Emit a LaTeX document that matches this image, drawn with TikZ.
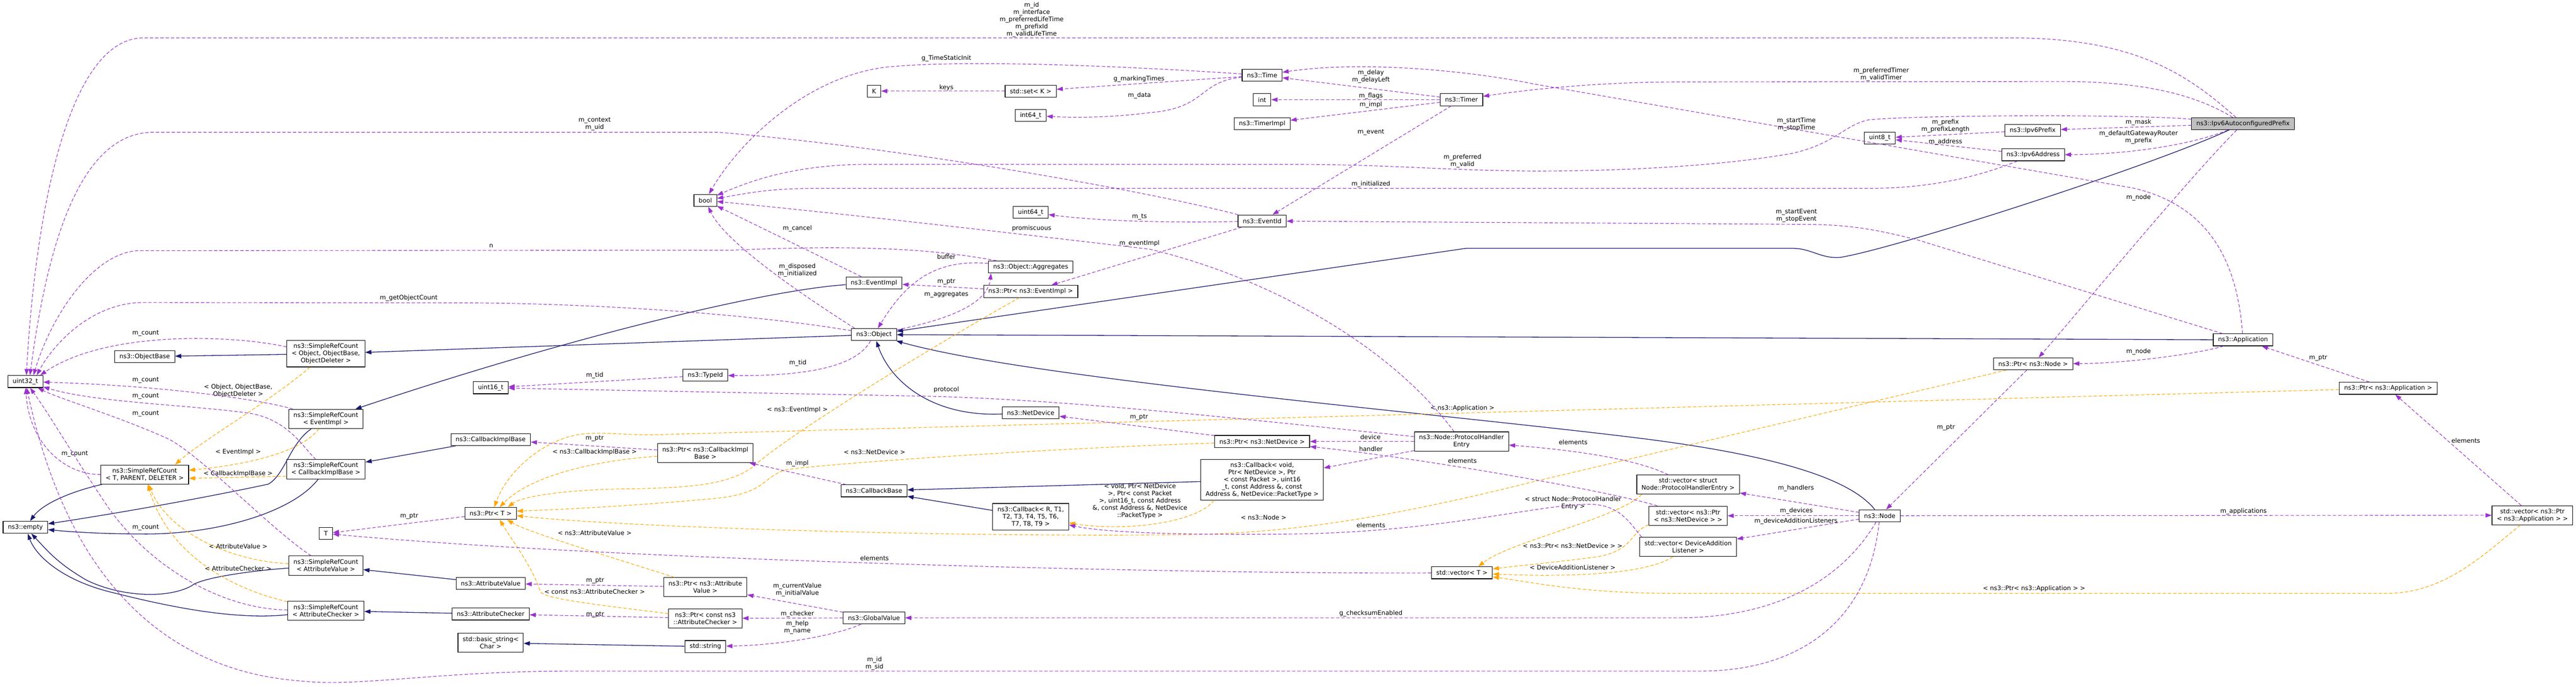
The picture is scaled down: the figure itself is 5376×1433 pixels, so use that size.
\documentclass[tikz,border=0pt]{standalone}
\usepackage{fontspec}
\setmainfont{DejaVu Sans}
\usetikzlibrary{arrows.meta}
\definecolor{inhblue}{HTML}{191970}
\definecolor{usepurple}{HTML}{9A32CD}
\definecolor{tmplorange}{HTML}{FFA500}
\definecolor{hlgray}{HTML}{BFBFBF}
\tikzset{
  cls/.style={draw=black, fill=white, line width=0.6pt, inner xsep=5pt, inner ysep=1pt, minimum height=12.5pt, align=center},
  twoline/.style={minimum height=20pt},
  threeline/.style={minimum height=27.5pt},
  fiveline/.style={minimum height=42pt},
  inh/.style={draw=inhblue, line width=0.7pt, -{Triangle[length=6.5pt,width=4.5pt]}},
  member/.style={draw=usepurple, line width=0.6pt, dash pattern=on 3.5pt off 2pt, -{Triangle[length=6.5pt,width=4.5pt]}},
  tmpl/.style={draw=tmplorange, line width=0.6pt, dash pattern=on 3.5pt off 2pt, -{Triangle[length=6.5pt,width=4.5pt]}},
  lbl/.style={align=center, inner sep=0pt, text=black}
}
\begin{document}
\begin{tikzpicture}[x=0.5pt, y=-0.5pt, font=\fontsize{6.45}{7.5}\selectfont]
    \useasboundingbox (0,0) rectangle (5376,1433);
    % Classes (pixel grid, y down)
    \node[cls, fill=hlgray] (n_prefix) at (4681,258) {ns3::Ipv6AutoconfiguredPrefix};
    \node[cls] (n_u32) at (53,796) {uint32\_t};
    \node[cls] (n_objbase) at (302,744) {ns3::ObjectBase};
    \node[cls, threeline] (n_srcobj) at (680,738) {ns3::SimpleRefCount\\< Object, ObjectBase,\\ObjectDeleter >};
    \node[cls, twoline] (n_srcev) at (680,874) {ns3::SimpleRefCount\\< EventImpl >};
    \node[cls, twoline] (n_srct) at (302,990) {ns3::SimpleRefCount\\< T, PARENT, DELETER >};
    \node[cls, twoline] (n_srccb) at (680,979) {ns3::SimpleRefCount\\< CallbackImplBase >};
    \node[cls] (n_empty) at (53,1100) {ns3::empty};
    \node[cls] (n_t) at (680,1113) {T};
    \node[cls, twoline] (n_srcav) at (680,1180) {ns3::SimpleRefCount\\< AttributeValue >};
    \node[cls, twoline] (n_srcac) at (680,1274) {ns3::SimpleRefCount\\< AttributeChecker >};
    \node[cls] (n_u16) at (1024,809) {uint16\_t};
    \node[cls] (n_cbimpl) at (1024,917) {ns3::CallbackImplBase};
    \node[cls] (n_ptrt) at (1024,1071) {ns3::Ptr< T >};
    \node[cls] (n_attval) at (1024,1217) {ns3::AttributeValue};
    \node[cls] (n_attchk) at (1024,1281) {ns3::AttributeChecker};
    \node[cls, twoline] (n_bstr) at (1024,1341) {std::basic\_string<\\Char >};
    \node[cls] (n_bool) at (1472,418) {bool};
    \node[cls] (n_typeid) at (1472,783) {ns3::TypeId};
    \node[cls, twoline] (n_ptrcb) at (1472,945) {ns3::Ptr< ns3::CallbackImpl\\Base >};
    \node[cls, twoline] (n_ptrav) at (1472,1225) {ns3::Ptr< ns3::Attribute\\Value >};
    \node[cls, twoline] (n_ptrac) at (1472,1290) {ns3::Ptr< const ns3\\::AttributeChecker >};
    \node[cls] (n_str) at (1472,1349) {std::string};
    \node[cls] (n_k) at (1824,190) {K};
    \node[cls] (n_evimpl) at (1824,590) {ns3::EventImpl};
    \node[cls] (n_object) at (1824,698) {ns3::Object};
    \node[cls] (n_cbbase) at (1824,1024) {ns3::CallbackBase};
    \node[cls] (n_gv) at (1824,1289) {ns3::GlobalValue};
    \node[cls] (n_set) at (2151,190) {std::set< K >};
    \node[cls] (n_i64) at (2151,241) {int64\_t};
    \node[cls] (n_u64) at (2151,443) {uint64\_t};
    \node[cls] (n_aggr) at (2151,557) {ns3::Object::Aggregates};
    \node[cls] (n_ptrev) at (2151,608) {ns3::Ptr< ns3::EventImpl >};
    \node[cls] (n_netdev) at (2151,861) {ns3::NetDevice};
    \node[cls, threeline] (n_cbr) at (2151,1078) {ns3::Callback< R, T1,\\T2, T3, T4, T5, T6,\\T7, T8, T9 >};
    \node[cls] (n_time) at (2634,157) {ns3::Time};
    \node[cls] (n_int) at (2634,208) {int};
    \node[cls] (n_timerimpl) at (2634,258) {ns3::TimerImpl};
    \node[cls] (n_evid) at (2634,461) {ns3::EventId};
    \node[cls] (n_ptrnd) at (2634,921) {ns3::Ptr< ns3::NetDevice >};
    \node[cls, fiveline] (n_cbvoid) at (2634,1001) {ns3::Callback< void,\\Ptr< NetDevice >, Ptr\\< const Packet >, uint16\\\_t, const Address \&, const\\Address \&, NetDevice::PacketType >};
    \node[cls] (n_timer) at (3050,208) {ns3::Timer};
    \node[cls, twoline] (n_phe) at (3050,921) {ns3::Node::ProtocolHandler\\Entry};
    \node[cls] (n_vect) at (3051,1195) {std::vector< T >};
    \node[cls, twoline] (n_vphe) at (3523,1011) {std::vector< struct\\Node::ProtocolHandlerEntry >};
    \node[cls, twoline] (n_vnd) at (3523,1076) {std::vector< ns3::Ptr\\< ns3::NetDevice > >};
    \node[cls, twoline] (n_vdal) at (3523,1141) {std::vector< DeviceAddition\\Listener >};
    \node[cls] (n_u8) at (3923,288) {uint8\_t};
    \node[cls] (n_node) at (3923,1076) {ns3::Node};
    \node[cls] (n_ipv6pfx) at (4242,272) {ns3::Ipv6Prefix};
    \node[cls] (n_ipv6addr) at (4243,323) {ns3::Ipv6Address};
    \node[cls] (n_ptrnode) at (4243,759) {ns3::Ptr< ns3::Node >};
    \node[cls] (n_app) at (4681,709) {ns3::Application};
    \node[cls] (n_ptrapp) at (4984,810) {ns3::Ptr< ns3::Application >};
    \node[cls, twoline] (n_vapp) at (5285,1075) {std::vector< ns3::Ptr\\< ns3::Application > >};

    % Inheritance
    \draw[inh] (n_prefix) .. controls (4480,350) and (3950,520) .. (3840,537) .. controls (3800,540) and (3780,518) .. (3740,518) -- (3060,518) -- (n_object);
    \draw[inh] (n_app) -- (n_object);
    \draw[inh] (n_node) .. controls (3870,1010) and (3750,955) .. (3420,914) .. controls (3000,862) and (2150,790) .. (n_object);
    \draw[inh] (n_netdev) .. controls (1950,870) and (1860,800) .. (n_object);
    \draw[inh] (n_evimpl) .. controls (1600,605) and (1200,700) .. (n_srcev);
    \draw[inh] (n_object) -- (n_srcobj);
    \draw[inh] (n_srcobj) -- (n_objbase);
    \draw[inh] (n_srcev) .. controls (605,925) and (595,990) .. (560,1010) .. controls (420,1040) and (250,1070) .. (n_empty);
    \draw[inh] (n_srct) .. controls (150,1025) and (90,1050) .. (n_empty);
    \draw[inh] (n_srccb) .. controls (610,1070) and (450,1115) .. (300,1114) .. controls (220,1114) and (150,1110) .. (n_empty);
    \draw[inh] (n_srcav) .. controls (530,1190) and (420,1205) .. (400,1222) .. controls (350,1250) and (250,1245) .. (180,1210) .. controls (120,1175) and (100,1150) .. (n_empty);
    \draw[inh] (n_srcac) .. controls (480,1295) and (330,1260) .. (230,1235) .. controls (130,1210) and (75,1160) .. (n_empty);
    \draw[inh] (n_cbimpl) -- (n_srccb);
    \draw[inh] (n_attval) -- (n_srcav);
    \draw[inh] (n_attchk) -- (n_srcac);
    \draw[inh] (n_str) -- (n_bstr);
    \draw[inh] (n_cbvoid) -- (n_cbbase);
    \draw[inh] (n_cbr) -- (n_cbbase);

    % Template instances
    \draw[tmpl] (n_srcobj) .. controls (560,840) and (420,920) .. (n_srct.18) node[lbl] at (497,815) {< Object, ObjectBase,\\ObjectDeleter >};
    \draw[tmpl] (n_srcev) .. controls (640,930) and (560,965) .. (n_srct) node[lbl] at (497,943) {< EventImpl >};
    \draw[tmpl] (n_srccb.190) -- (n_srct.-5) node[lbl] at (497,988) {< CallbackImplBase >};
    \draw[tmpl] (n_srcav) .. controls (480,1170) and (350,1110) .. (n_srct) node[lbl] at (497,1140) {< AttributeValue >};
    \draw[tmpl] (n_srcac) .. controls (470,1225) and (350,1150) .. (n_srct) node[lbl] at (497,1186) {< AttributeChecker >};
    \draw[tmpl] (n_ptrev) .. controls (1950,720) and (1640,910) .. (1570,975) .. controls (1520,1010) and (1450,1018) .. (1300,1020) .. controls (1180,1022) and (1090,1035) .. (n_ptrt.20) node[lbl] at (1664,855) {< ns3::EventImpl >};
    \draw[tmpl] (n_ptrcb) .. controls (1250,960) and (1110,990) .. (n_ptrt.35) node[lbl] at (1241,943) {< ns3::CallbackImplBase >};
    \draw[tmpl] (n_ptrnd) .. controls (2200,935) and (1750,965) .. (1640,980) .. controls (1590,995) and (1600,1030) .. (1490,1040) .. controls (1350,1053) and (1200,1062) .. (n_ptrt.5) node[lbl] at (1825,943) {< ns3::NetDevice >};
    \draw[tmpl] (n_ptrav) .. controls (1300,1170) and (1100,1110) .. (n_ptrt.-21) node[lbl] at (1241,1112) {< ns3::AttributeValue >};
    \draw[tmpl] (n_ptrac) .. controls (1250,1262) and (1140,1250) .. (1128,1235) .. controls (1110,1180) and (1070,1130) .. (n_ptrt.-35) node[lbl] at (1241,1234) {< const ns3::AttributeChecker >};
    \draw[tmpl] (n_ptrnode) -- (3200,1005) .. controls (2900,1080) and (2700,1110) .. (2500,1115) .. controls (2000,1122) and (1300,1100) .. (n_ptrt.-5) node[lbl] at (2637,1079) {< ns3::Node >};
    \draw[tmpl] (n_ptrapp) -- (1400,906) .. controls (1300,910) and (1270,900) .. (1220,905) .. controls (1140,912) and (1060,980) .. (n_ptrt.60) node[lbl] at (3052,852) {< ns3::Application >};
    \draw[tmpl] (n_vphe.192) .. controls (3380,1080) and (3150,1130) .. (n_vect.21) node[lbl] at (3283,1050) {< struct Node::ProtocolHandler\\Entry >};
    \draw[tmpl] (n_vnd.193) .. controls (3400,1110) and (3410,1150) .. (3330,1162) .. controls (3230,1175) and (3170,1180) .. (n_vect) node[lbl] at (3282,1139) {< ns3::Ptr< ns3::NetDevice > >};
    \draw[tmpl] (n_vdal) .. controls (3440,1195) and (3300,1205) .. (n_vect) node[lbl] at (3282,1184) {< DeviceAdditionListener >};
    \draw[tmpl] (n_vapp) .. controls (5180,1160) and (5100,1238) .. (4980,1238) -- (3500,1238) .. controls (3300,1238) and (3200,1215) .. (n_vect) node[lbl] at (4245,1228) {< ns3::Ptr< ns3::Application > >};
    \draw[tmpl] (n_cbvoid.203) .. controls (2500,1090) and (2350,1110) .. (n_cbr) node[lbl] at (2379,1045) {< void, Ptr< NetDevice\\>, Ptr< const Packet\\>, uint16\_t, const Address\\\&, const Address \&, NetDevice\\::PacketType >};

    % Members
    \draw[member] (n_prefix) .. controls (4560,150) and (4450,80) .. (4200,79) -- (300,79) .. controls (130,79) and (70,500) .. (n_u32.81) node[lbl] at (2153,41) {m\_id\\m\_interface\\m\_preferredLifeTime\\m\_prefixId\\m\_validLifeTime};
    \draw[member] (n_prefix) .. controls (4570,190) and (4450,170) .. (4300,170) -- (3500,171) .. controls (3350,171) and (3200,185) .. (n_timer) node[lbl] at (3926,155) {m\_preferredTimer\\m\_validTimer};
    \draw[member] (n_prefix) .. controls (4450,238) and (4000,240) .. (3900,250) .. controls (3850,260) and (3830,300) .. (3740,320) .. controls (3600,345) and (3400,357) .. (3200,357) .. controls (3000,355) and (2900,343) .. (2700,343) -- (1800,343) .. controls (1650,345) and (1560,380) .. (n_bool) node[lbl] at (3052,336) {m\_preferred\\m\_valid};
    \draw[member] (n_prefix) -- (n_ipv6pfx) node[lbl] at (4463,255) {m\_mask};
    \draw[member] (n_prefix) .. controls (4580,300) and (4450,322) .. (n_ipv6addr) node[lbl] at (4463,286) {m\_defaultGatewayRouter\\m\_prefix};
    \draw[member] (n_prefix) .. controls (4560,380) and (4330,660) .. (n_ptrnode) node[lbl] at (4463,412) {m\_node};
    \draw[member] (n_app) .. controls (4600,735) and (4450,758) .. (n_ptrnode) node[lbl] at (4463,734) {m\_node};
    \draw[member] (n_app) .. controls (4670,560) and (4620,430) .. (4450,392) -- (3200,175) .. controls (3080,150) and (2850,125) .. (n_time) node[lbl] at (3749,260) {m\_startTime\\m\_stopTime};
    \draw[member] (n_app) -- (4000,500) .. controls (3900,475) and (3850,468) .. (3750,468) -- (n_evid) node[lbl] at (3749,450) {m\_startEvent\\m\_stopEvent};
    \draw[member] (n_ptrapp) -- (n_app) node[lbl] at (4838,747) {m\_ptr};
    \draw[member] (n_vapp) -- (n_ptrapp) node[lbl] at (5146,919) {elements};
    \draw[member] (n_node) -- (n_vapp) node[lbl] at (4682,1067) {m\_applications};
    \draw[member] (n_ptrnode) -- (n_node) node[lbl] at (4061,892) {m\_ptr};
    \draw[member] (n_node) -- (n_vphe) node[lbl] at (3748,1019) {m\_handlers};
    \draw[member] (n_node) -- (n_vnd) node[lbl] at (3749,1066) {m\_devices};
    \draw[member] (n_node) -- (n_vdal) node[lbl] at (3748,1087) {m\_deviceAdditionListeners};
    \draw[member] (n_node) .. controls (3850,1200) and (3720,1289) .. (3500,1289) -- (n_gv) node[lbl] at (2861,1280) {g\_checksumEnabled};
    \draw[member] (n_node) .. controls (3900,1300) and (3750,1400) .. (3550,1400) -- (1200,1400) .. controls (900,1400) and (750,1435) .. (620,1420) .. controls (380,1400) and (150,1250) .. (n_u32) node[lbl] at (1825,1384) {m\_id\\m\_sid};
    \draw[member] (n_evid) .. controls (2400,400) and (1900,310) .. (1500,276) -- (320,276) .. controls (170,276) and (100,500) .. (n_u32.54) node[lbl] at (1241,259) {m\_context\\m\_uid};
    \draw[member] (n_aggr) .. controls (1950,520) and (1800,510) .. (1526,522) -- (290,523) .. controls (200,525) and (110,650) .. (n_u32.38) node[lbl] at (1025,513) {n};
    \draw[member] (n_object) .. controls (1600,660) and (1300,635) .. (1000,632) -- (300,631) .. controls (190,631) and (110,720) .. (n_u32.29) node[lbl] at (853,622) {m\_getObjectCount};
    \draw[member] (n_srcobj.170) .. controls (480,698) and (220,690) .. (n_u32.23) node[lbl] at (304,695) {m\_count};
    \draw[member] (n_srcev) .. controls (550,835) and (350,805) .. (n_u32) node[lbl] at (304,793) {m\_count};
    \draw[member] (n_srccb) .. controls (630,930) and (600,875) .. (520,862) .. controls (400,845) and (200,840) .. (n_u32) node[lbl] at (304,826) {m\_count};
    \draw[member] (n_srcav) .. controls (560,1100) and (420,950) .. (350,915) .. controls (250,870) and (120,830) .. (n_u32) node[lbl] at (304,863) {m\_count};
    \draw[member] (n_srct) .. controls (130,990) and (60,920) .. (n_u32) node[lbl] at (156,947) {m\_count};
    \draw[member] (n_srcac) .. controls (450,1270) and (300,1170) .. (220,1050) .. controls (140,930) and (100,860) .. (n_u32) node[lbl] at (304,1101) {m\_count};
    \draw[member] (n_object.162) .. controls (1650,600) and (1510,500) .. (n_bool) node[lbl] at (1664,564) {m\_disposed\\m\_initialized};
    \draw[member] (n_evimpl) -- (n_bool) node[lbl] at (1664,477) {m\_cancel};
    \draw[member] (n_time) .. controls (2300,135) and (2000,125) .. (1850,140) .. controls (1680,160) and (1540,300) .. (n_bool) node[lbl] at (1975,122) {g\_TimeStaticInit};
    \draw[member] (n_time) -- (n_set) node[lbl] at (2377,165) {g\_markingTimes};
    \draw[member] (n_time) .. controls (2500,170) and (2520,225) .. (2400,235) .. controls (2320,245) and (2250,246) .. (n_i64) node[lbl] at (2378,199) {m\_data};
    \draw[member] (n_set) -- (n_k) node[lbl] at (1975,183) {keys};
    \draw[member] (n_timer) -- (n_time) node[lbl] at (2861,160) {m\_delay\\m\_delayLeft};
    \draw[member] (n_timer) -- (n_int) node[lbl] at (2861,200) {m\_flags};
    \draw[member] (n_timer) -- (n_timerimpl) node[lbl] at (2861,219) {m\_impl};
    \draw[member] (n_timer) -- (n_evid) node[lbl] at (2861,276) {m\_event};
    \draw[member] (n_evid) .. controls (2450,465) and (2300,462) .. (n_u64) node[lbl] at (2378,452) {m\_ts};
    \draw[member] (n_evid) -- (n_ptrev) node[lbl] at (2378,508) {m\_eventImpl};
    \draw[member] (n_ptrev) -- (n_evimpl) node[lbl] at (1975,588) {m\_ptr};
    \draw[member] (n_object) .. controls (1960,670) and (2060,640) .. (n_aggr.189) node[lbl] at (1975,615) {m\_aggregates};
    \draw[member] (n_aggr) .. controls (1950,540) and (1890,590) .. (n_object) node[lbl] at (1975,536) {buffer};
    \draw[member] (n_object) .. controls (1790,760) and (1700,785) .. (n_typeid) node[lbl] at (1665,757) {m\_tid};
    \draw[member] (n_typeid) -- (n_u16) node[lbl] at (1241,783) {m\_tid};
    \draw[member] (n_phe) .. controls (2600,875) and (2200,830) .. (1900,826) -- (n_u16) node[lbl] at (1975,813) {protocol};
    \draw[member] (n_phe) .. controls (2900,720) and (2650,580) .. (2400,520) .. controls (2100,485) and (1800,450) .. (n_bool) node[lbl] at (2153,477) {promiscuous};
    \draw[member] (n_phe) -- (n_ptrnd) node[lbl] at (2860,912) {device};
    \draw[member] (n_phe) -- (n_cbvoid) node[lbl] at (2861,937) {handler};
    \draw[member] (n_ptrnd) -- (n_netdev) node[lbl] at (2377,871) {m\_ptr};
    \draw[member] (n_vphe) .. controls (3420,960) and (3300,940) .. (n_phe) node[lbl] at (3283,923) {elements};
    \draw[member] (n_vnd) .. controls (3380,1030) and (3000,960) .. (n_ptrnd) node[lbl] at (3052,961) {elements};
    \draw[member] (n_vdal.168) .. controls (3400,1090) and (3380,1050) .. (3310,1052) .. controls (3200,1055) and (3000,1110) .. (2700,1114) .. controls (2450,1117) and (2300,1110) .. (n_cbr) node[lbl] at (2861,1096) {elements};
    \draw[member] (n_vect) .. controls (2500,1198) and (1300,1170) .. (n_t) node[lbl] at (1825,1164) {elements};
    \draw[member] (n_ptrt) -- (n_t) node[lbl] at (854,1077) {m\_ptr};
    \draw[member] (n_ptrav) -- (n_attval) node[lbl] at (1242,1211) {m\_ptr};
    \draw[member] (n_ptrac) -- (n_attchk) node[lbl] at (1242,1282) {m\_ptr};
    \draw[member] (n_gv) -- (n_ptrav) node[lbl] at (1664,1230) {m\_currentValue\\m\_initialValue};
    \draw[member] (n_gv) -- (n_ptrac) node[lbl] at (1664,1281) {m\_checker};
    \draw[member] (n_gv) .. controls (1760,1320) and (1650,1345) .. (n_str) node[lbl] at (1664,1309) {m\_help\\m\_name};
    \draw[member] (n_ptrcb) -- (n_cbimpl) node[lbl] at (1241,915) {m\_ptr};
    \draw[member] (n_cbbase) -- (n_ptrcb) node[lbl] at (1664,967) {m\_impl};
    \draw[member] (n_ipv6pfx) -- (n_u8) node[lbl] at (4060,263) {m\_prefix\\m\_prefixLength};
    \draw[member] (n_ipv6addr) -- (n_u8) node[lbl] at (4060,296) {m\_address};
    \draw[member] (n_ipv6addr) .. controls (4150,360) and (4050,393) .. (3900,393) -- (1700,393) .. controls (1600,393) and (1550,405) .. (n_bool) node[lbl] at (2861,384) {m\_initialized};
\end{tikzpicture}
\end{document}
